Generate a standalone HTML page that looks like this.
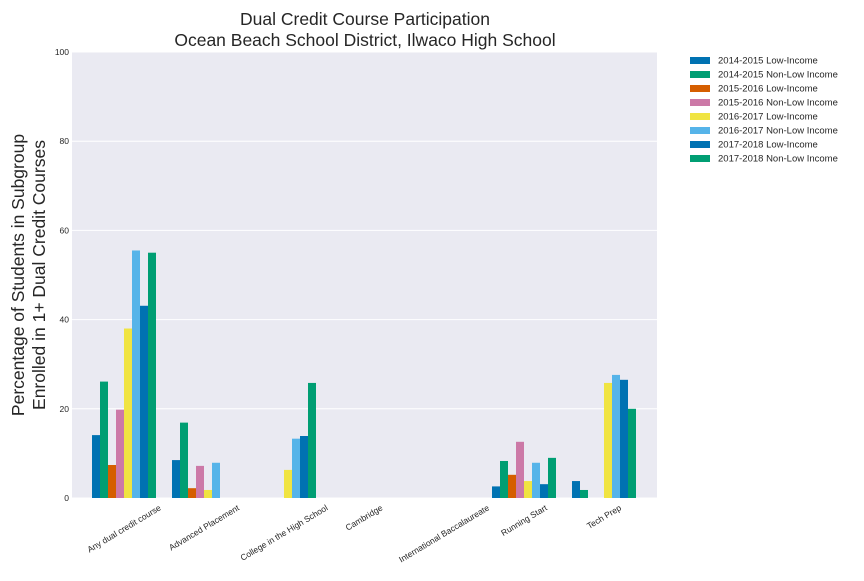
<!DOCTYPE html>
<html><head><meta charset="utf-8"><style>
body{margin:0;background:#fff;font-family:"Liberation Sans",sans-serif}
svg text{font-family:"Liberation Sans",sans-serif;fill:#262626}
</style></head><body>
<svg id="chart" width="864" height="576"></svg>
<script>
const categories=["Any dual credit course","Advanced Placement","College in the High School","Cambridge","International Baccalaureate","Running Start","Tech Prep"];
const seriesNames=["2014-2015 Low-Income","2014-2015 Non-Low Income","2015-2016 Low-Income","2015-2016 Non-Low Income","2016-2017 Low-Income","2016-2017 Non-Low Income","2017-2018 Low-Income","2017-2018 Non-Low Income"];
const s1=[14.1,8.5,0,0,0,2.6,3.8];
const s2=[26.1,16.9,0,0,0,8.3,1.8];
const s3=[7.4,2.2,0,0,0,5.2,0];
const s4=[19.8,7.2,0,0,0,12.6,0];
const s5=[38,1.8,6.3,0,0,3.8,25.8];
const s6=[55.5,7.9,13.3,0,0,7.9,27.6];
const s7=[43.1,0,13.9,0,0,3.1,26.5];
const s8=[55,0,25.8,0,0,9.0,20];
const yTicks=[0,20,40,60,80,100];
const colors=["#0072B2","#009E73","#D55E00","#CC79A7","#F0E442","#56B4E9","#0072B2","#009E73"];
const series=[s1,s2,s3,s4,s5,s6,s7,s8];
const NS="http://www.w3.org/2000/svg";
const svg=document.getElementById('chart');
const X0=72,X1=657,Y0=52,Y1=498;
const y=v=>Y1-(v/100)*(Y1-Y0);
const step=80,first=124,bw=8;
const xc=i=>first+step*i;
function mk(t,a,p){const e=document.createElementNS(NS,t);for(const k in a)e.setAttribute(k,a[k]);(p||svg).appendChild(e);return e;}
const bg=mk('rect',{x:X0,y:Y0,width:X1-X0,height:Y1-Y0,fill:'#EAEAF2'});


yTicks.forEach(t=>{
  const l=mk('line',{x1:X0,x2:X1,y1:y(t),y2:y(t),stroke:'#fff','stroke-width':1});
  
  
  const tx=mk('text',{x:X0-3,y:y(t)+3,'text-anchor':'end','font-size':8.5});
  tx.textContent=t;
  
  
});
series.forEach((s,j)=>{
  s.forEach((v,i)=>{
    if(v<=0)return;
    const r=mk('rect',{x:xc(i)-32+j*bw,y:y(v),width:bw,height:Y1-y(v),fill:colors[j]});
    
    
  });
});
const ang=31*Math.PI/180;
categories.forEach((c,i)=>{
  const cx=xc(i);
  const tx=mk('text',{x:cx,y:0,'text-anchor':'middle','font-size':8.5});
  tx.textContent=c;
  const L=tx.getComputedTextLength();
  const h=9;
  const cy=503+(L*Math.sin(ang)+h*Math.cos(ang))/2;
  tx.setAttribute('y',cy+3);
  tx.setAttribute('transform',`rotate(-31 ${cx} ${cy})`);
  
  
});
seriesNames.forEach((n,j)=>{
  const cy=60+14*j;
  const r=mk('rect',{x:690,y:cy-3,width:20,height:7,fill:colors[j]});
  
  
  const t=mk('text',{x:718,y:cy+3.5,'font-size':9.5});
  t.textContent=n;
  
  
});
</script>
<svg width="864" height="576" style="position:absolute;left:0;top:0">
<text x="365" y="25" text-anchor="middle" font-size="17.5">Dual Credit Course Participation</text>
<text x="365" y="46" text-anchor="middle" font-size="17.5">Ocean Beach School District, Ilwaco High School</text>
<g transform="rotate(-90)">
<text x="-275" y="24" text-anchor="middle" font-size="17.5">Percentage of Students in Subgroup</text>
<text x="-275" y="45" text-anchor="middle" font-size="17.5">Enrolled in 1+ Dual Credit Courses</text>
</g>
</svg>
</body></html>
